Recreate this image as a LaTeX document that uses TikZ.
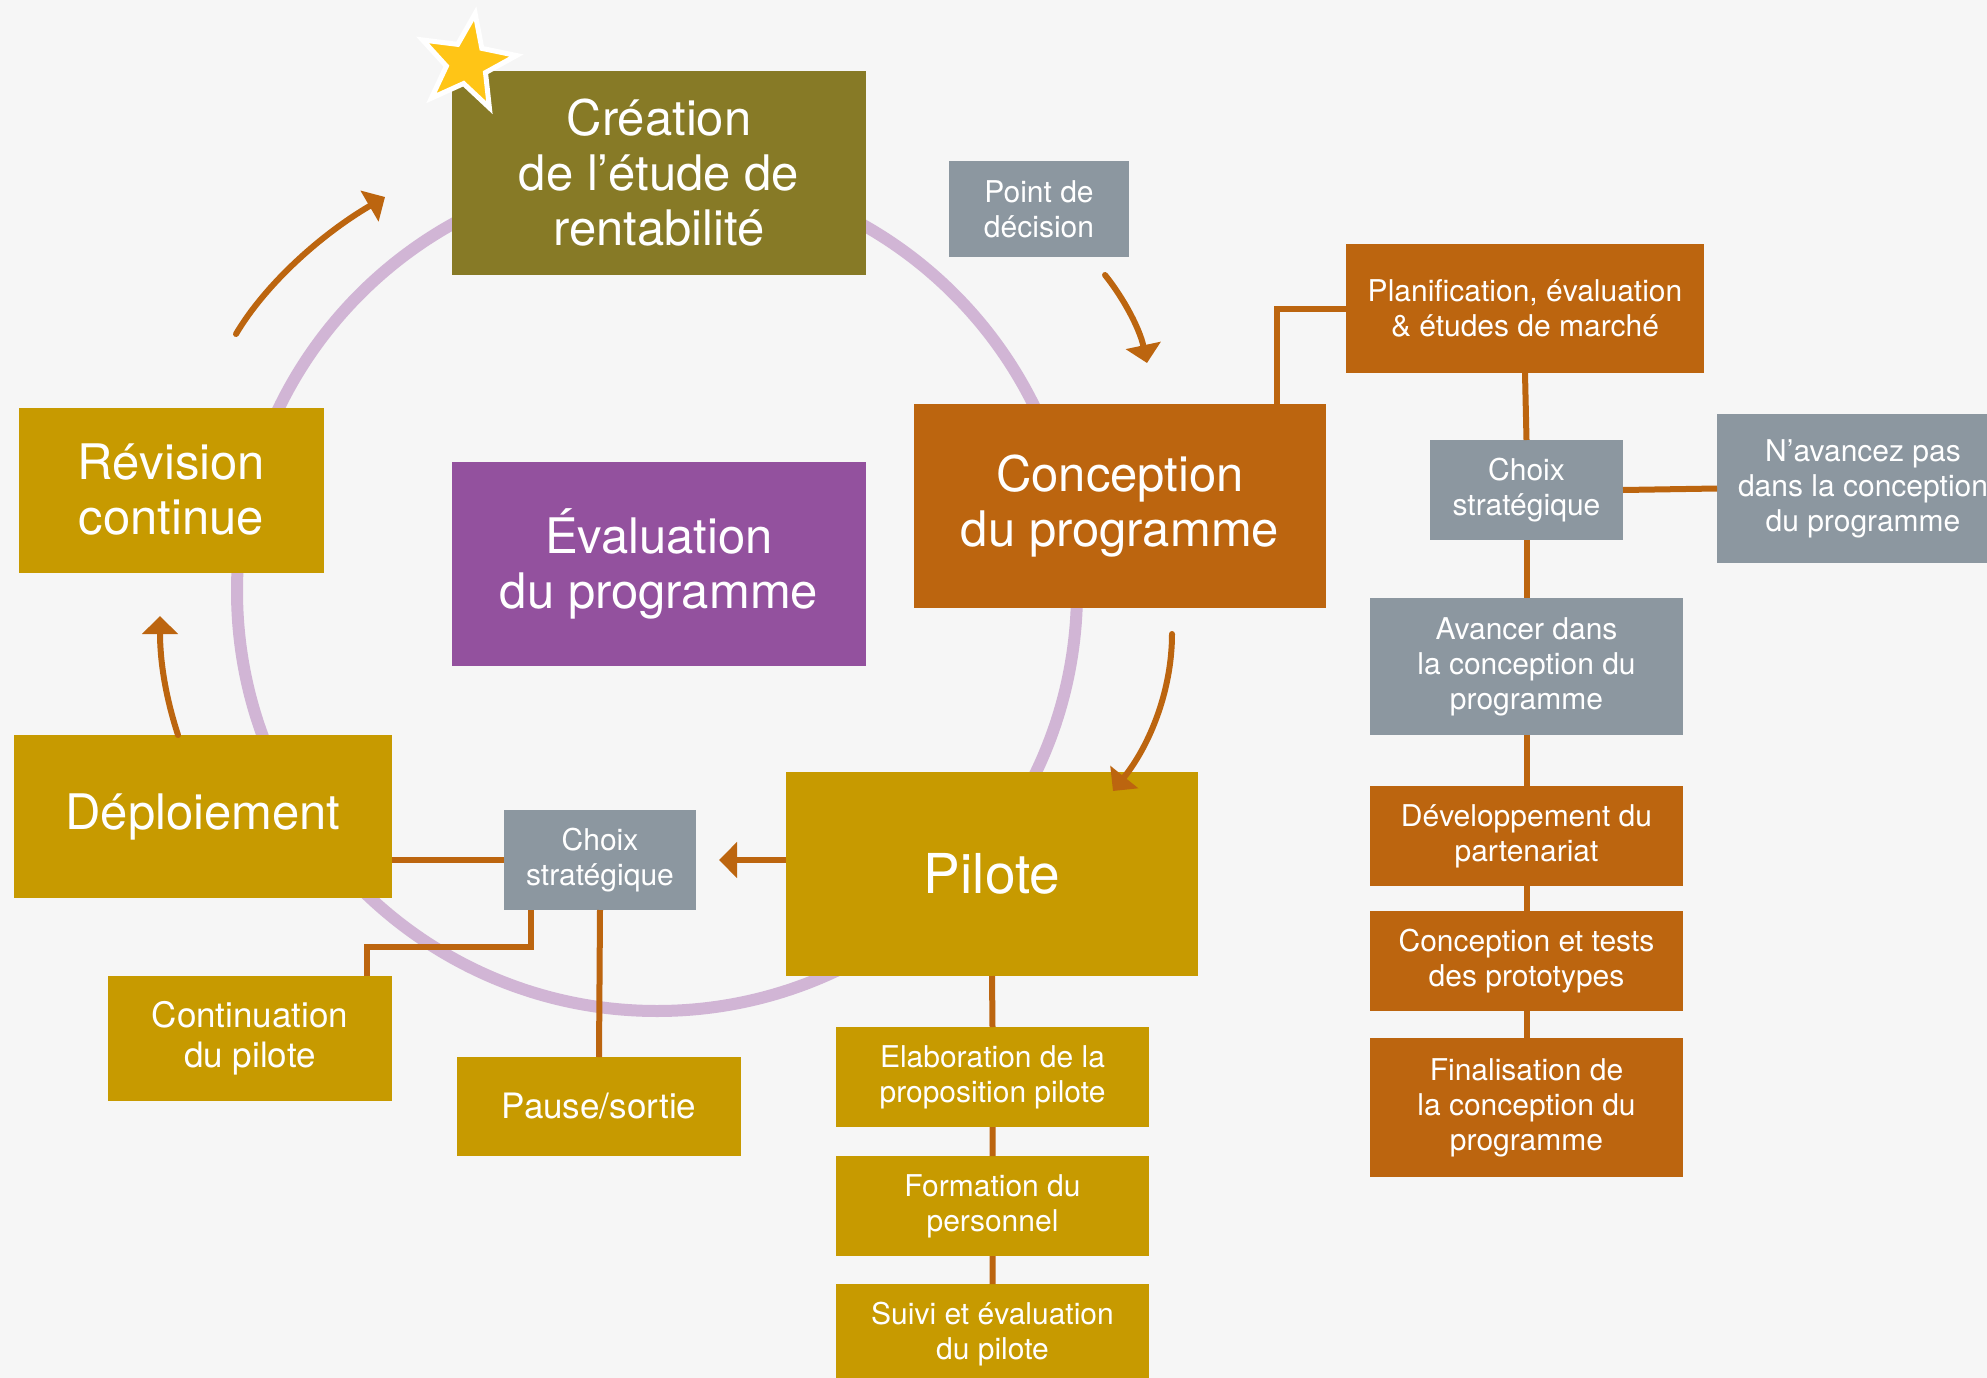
\documentclass[tikz,border=0pt]{standalone}
\usepackage{fontspec}
\setmainfont{TeX Gyre Heros}
\usetikzlibrary{arrows.meta,shapes.geometric}

\definecolor{fond}{HTML}{F6F6F6}
\definecolor{cOlive}{HTML}{877A26}
\definecolor{cGold}{HTML}{C79A00}
\definecolor{cOrange}{HTML}{BC650F}
\definecolor{cGris}{HTML}{8C97A0}
\definecolor{cViolet}{HTML}{93519E}
\definecolor{cAnneau}{HTML}{D1B5D5}
\definecolor{cEtoile}{HTML}{FFC516}

\begin{document}
\begin{tikzpicture}[x=1pt,y=-1pt,
    box/.style={fill=#1, text=white, align=center, inner sep=0pt, outer sep=0pt},
    big/.style={font=\fontsize{49}{55}\selectfont},
    mid/.style={font=\fontsize{35}{40}\selectfont},
    small/.style={font=\fontsize{30}{35}\selectfont},
    link/.style={draw=cOrange, line width=6pt},
    arr/.style={draw=cOrange, line width=6pt, line cap=round, -{Triangle[length=18pt,width=35pt]}}]
    \useasboundingbox (0,0) rectangle (1987,1378);
    \fill[fond] (0,0) rectangle (1987,1378);
    % anneau
    \draw[cAnneau, line width=12pt] (657,591) circle[radius=420];

    % cycle
    \node[box=cOlive, big, minimum width=414pt, minimum height=204pt] (crea) at (659,173) {Création\\de l’étude de\\rentabilité};
    \node[box=cViolet, big, minimum width=414pt, minimum height=204pt] (eval) at (659,564) {Évaluation\\du programme};
    \node[box=cOrange, big, minimum width=412pt, minimum height=204pt] (conc) at (1120,506) {Conception\\du programme};
    \node[box=cGold, font=\fontsize{55}{60}\selectfont, minimum width=412pt, minimum height=204pt] (pilo) at (992,874) {Pilote};
    \node[box=cGold, big, minimum width=378pt, minimum height=163pt] (depl) at (203,816.5) {Déploiement};
    \node[box=cGold, big, minimum width=305pt, minimum height=165pt] (revi) at (171.5,490) {Révision\\continue};
    \node[box=cGris, small, minimum width=180pt, minimum height=96pt] (pdec) at (1039,209) {Point de\\décision};

    % branche conception
    \node[box=cOrange, small, minimum width=358pt, minimum height=129pt] (plan) at (1525,308.5) {Planification, évaluation\\\& études de marché};
    \node[box=cGris, small, minimum width=193pt, minimum height=100pt] (choixR) at (1526.5,490) {Choix\\stratégique};
    \node[box=cGris, small, minimum width=292pt, minimum height=149pt] (nav) at (1863,488.5) {N’avancez pas\\dans la conception\\du programme};
    \node[box=cGris, small, minimum width=313pt, minimum height=137pt] (avan) at (1526.5,666.5) {Avancer dans\\la conception du\\programme};
    \node[box=cOrange, small, minimum width=313pt, minimum height=100pt] (dev) at (1526.5,836) {Développement du\\partenariat};
    \node[box=cOrange, small, minimum width=313pt, minimum height=100pt] (proto) at (1526.5,961) {Conception et tests\\des prototypes};
    \node[box=cOrange, small, minimum width=313pt, minimum height=139pt] (fina) at (1526.5,1107.5) {Finalisation de\\la conception du\\programme};

    % branche pilote
    \node[box=cGris, small, minimum width=192pt, minimum height=100pt] (choixL) at (600,860) {Choix\\stratégique};
    \node[box=cGold, mid, minimum width=284pt, minimum height=125pt] (cont) at (250,1038.5) {Continuation\\du pilote};
    \node[box=cGold, mid, minimum width=284pt, minimum height=99pt] (paus) at (599,1106.5) {Pause/sortie};
    \node[box=cGold, small, minimum width=313pt, minimum height=100pt] (elab) at (992.5,1077) {Elaboration de la\\proposition pilote};
    \node[box=cGold, small, minimum width=313pt, minimum height=100pt] (form) at (992.5,1206) {Formation du\\personnel};
    \node[box=cGold, small, minimum width=313pt, minimum height=100pt] (suiv) at (992.5,1334) {Suivi et évaluation\\du pilote};

    % liens
    \draw[link] (plan.west) -| ([xshift=-49pt]conc.north east);
    \draw[link] (plan.south) -- (choixR.north);
    \draw[link] (choixR.east) -- (nav.west);
    \draw[link] (choixR.south) -- (avan.north);
    \draw[link] (avan.south) -- (dev.north) (dev.south) -- (proto.north) (proto.south) -- (fina.north);
    \draw[link] (choixL.west) -- (choixL.west -| depl.east);
    \draw[link] ([xshift=27pt]choixL.south west) -- ++(0,37) -| ([xshift=-25pt]cont.north east);
    \draw[link] (choixL.south) -- (paus.north);
    \draw[link] (pilo.south) -- (elab.north) (elab.south) -- (form.north) (form.south) -- (suiv.north);

    % fleches
    \draw[arr] (1105,275) .. controls (1125,300) and (1140,330) .. (1147,363);
    \draw[arr] (1172,634) .. controls (1172,690) and (1150,745) .. (1113,791);
    \draw[arr, line cap=butt] (pilo.west |- choixL.east) -- ([xshift=23pt]choixL.east);
    \draw[arr] (178,735) .. controls (165,695) and (160,660) .. (160,616);
    \draw[arr] (236,334) .. controls (265,285) and (320,235) .. (385,197);

    % etoile
    \node[star, star points=5, star point ratio=2.4, fill=cEtoile, draw=white, line width=5pt,
        minimum size=100pt, inner sep=0pt, rotate=-9.4] (etoile) at (467,63) {};
\end{tikzpicture}
\end{document}
